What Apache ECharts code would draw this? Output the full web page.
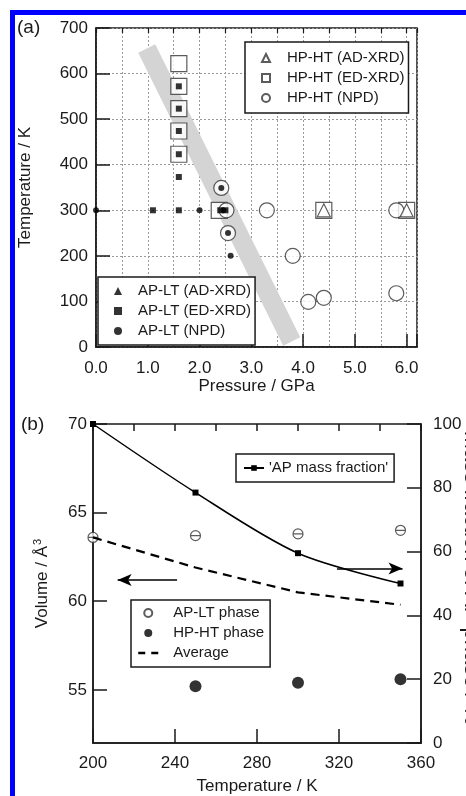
<!DOCTYPE html>
<html>
<head>
<meta charset="utf-8">
<script src="https://cdn.jsdelivr.net/npm/echarts@6/dist/echarts.min.js"></script>
<style>
  html, body { margin: 0; padding: 0; background: #fff; }
  #chart { width: 466px; height: 796px; }
</style>
</head>
<body>
<div id="chart"></div>
<script>
// panel (a): pressure [GPa], temperature [K]
const hpAdXrd = [[4.4, 300], [6.0, 300]];
const hpEdXrd = [[1.6, 622], [1.6, 572], [1.6, 523], [1.6, 474], [1.6, 423], [2.38, 300], [4.4, 300], [6.0, 300]];
const hpNpd = [[2.42, 349], [2.52, 300], [2.55, 250], [3.3, 300], [3.8, 200], [4.1, 99], [4.4, 108], [5.8, 118], [5.8, 300]];
const apAdXrd = [];
const apEdXrd = [[1.6, 572], [1.6, 523], [1.6, 474], [1.6, 423], [1.6, 373], [1.1, 300], [1.6, 300], [2.4, 300], [2.5, 300]];
const apNpd = [[0.0, 300], [2.0, 300], [2.42, 349], [2.55, 250], [2.6, 200], [2.46, 300]];
const boundary = [[0.98, 655], [3.78, 12]];

// panel (b): temperature [K]
const temps = [200, 250, 300, 350];
const apFraction = [100, 78.5, 59.5, 50];
const apltVolume = [63.6, 63.7, 63.8, 64.0];
const hphtVolume = [null, 55.2, 55.4, 55.6];
const avgVolume = [63.6, 61.9, 60.5, 59.8];
const arrowVolume = [[241, 61.2], [212, 61.2]];
const arrowFraction = [[319, 54.7], [351, 54.7]];

const volTicks = [55, 60, 65, 70];

const FONT = "Liberation Sans";
const ink = "#1a1a1a";

const pairs = (xs, ys) => xs.map((x, i) => [x, ys[i]]).filter(p => p[1] != null);

var chart = echarts.init(document.getElementById("chart"), null, { renderer: "canvas" });

const lbl = { color: ink, fontFamily: FONT, fontSize: 17 };
const nameStyle = { color: ink, fontFamily: FONT, fontSize: 17 };
const axLine = { show: true, lineStyle: { color: ink, width: 1.5 } };
const dotted = { show: true, lineStyle: { color: "#9a9a9a", type: [2, 2], width: 1 } };

const openStyle = { color: "#fff", borderColor: "#333", borderWidth: 1.2 };
const fillStyle = { color: "#000" };

const legendText = (pad) => ({ color: ink, fontFamily: FONT, fontSize: 15, lineHeight: 20, padding: [0, 0, 0, pad] });

var option = {
  animation: false,
  graphic: [
    { type: "rect", shape: { x: 10, y: 10, width: 456, height: 5 }, style: { fill: "#0000ff" } },
    { type: "rect", shape: { x: 10, y: 10, width: 5, height: 786 }, style: { fill: "#0000ff" } },
    { type: "text", left: 17, top: 18, style: { text: "(a)", font: "19px " + FONT, fill: ink } },
    { type: "text", left: 21, top: 415, style: { text: "(b)", font: "19px " + FONT, fill: ink } },
    // right-axis title, cut by the picture edge as in the source figure
    {
      type: "text", x: 471, y: 578, rotation: -Math.PI / 2,
      style: { text: "Mass fraction of AP phase / %", font: "22px " + FONT, fill: ink, align: "center", verticalAlign: "middle" }
    }
  ],
  grid: [
    { left: 96, top: 28, width: 321, height: 319, show: true, borderColor: ink, borderWidth: 1.5 },
    { left: 93, top: 424, width: 328, height: 320, show: true, borderColor: ink, borderWidth: 1.5 }
  ],
  legend: [
    {
      orient: "vertical", left: 245, top: 42, padding: [6, 4, 5, 16],
      backgroundColor: "#fff", borderColor: ink, borderWidth: 1.5,
      itemWidth: 8, itemHeight: 8, itemGap: 0, selectedMode: false,
      textStyle: legendText(12),
      data: ["HP-HT (AD-XRD)", "HP-HT (ED-XRD)", "HP-HT (NPD)"]
    },
    {
      orient: "vertical", left: 98, top: 277, padding: [4, 4, 4, 16],
      backgroundColor: "#fff", borderColor: ink, borderWidth: 1.5,
      itemWidth: 8, itemHeight: 8, itemGap: 0, selectedMode: false,
      textStyle: legendText(11),
      data: ["AP-LT (AD-XRD)", "AP-LT (ED-XRD)", "AP-LT (NPD)"]
    },
    {
      orient: "vertical", left: 236, top: 454, padding: [4, 6, 4, 7],
      backgroundColor: "#fff", borderColor: ink, borderWidth: 1.5,
      itemWidth: 20, itemHeight: 7, itemGap: 0, selectedMode: false,
      textStyle: legendText(0),
      data: ["'AP mass fraction'"]
    },
    {
      orient: "vertical", left: 131, top: 600, padding: [3, 6, 4, 6],
      backgroundColor: "#fff", borderColor: ink, borderWidth: 1.5,
      itemWidth: 20, itemHeight: 8, itemGap: 0, selectedMode: false,
      textStyle: legendText(10),
      data: [
        { name: "AP-LT phase", icon: "circle" },
        "HP-HT phase",
        { name: "Average", itemStyle: { opacity: 0 }, lineStyle: { width: 2.5, type: [7, 6] } }
      ]
    }
  ],
  xAxis: [
    {
      gridIndex: 0, type: "value", min: 0, max: 6.2, interval: 1,
      name: "Pressure / GPa", nameLocation: "middle", nameGap: 30, nameTextStyle: nameStyle,
      axisLine: axLine,
      axisTick: { inside: true, length: 13, lineStyle: { color: ink, width: 1.5 } },
      axisLabel: Object.assign({ margin: 13, formatter: v => (v > 6.01 ? "" : v.toFixed(1)) }, lbl),
      splitLine: { show: false }
    },
    {
      gridIndex: 0, type: "value", min: 0, max: 6.2, interval: 0.5,
      axisLine: { show: false },
      axisTick: { inside: true, length: 5, lineStyle: { color: ink, width: 1.2 } },
      axisLabel: { show: false },
      splitLine: dotted
    },
    {
      gridIndex: 1, type: "value", min: 200, max: 360, interval: 40,
      name: "Temperature / K", nameLocation: "middle", nameGap: 35, nameTextStyle: nameStyle,
      axisLine: axLine,
      axisTick: { inside: true, length: 14, lineStyle: { color: ink, width: 1.5 } },
      axisLabel: Object.assign({ margin: 12 }, lbl),
      splitLine: { show: false }
    },
    {
      gridIndex: 1, type: "value", min: 200, max: 360, interval: 20,
      axisLine: { show: false },
      axisTick: { inside: true, length: 7, lineStyle: { color: ink, width: 1.5 } },
      axisLabel: { show: false },
      splitLine: { show: false }
    }
  ],
  yAxis: [
    {
      gridIndex: 0, type: "value", min: 0, max: 700, interval: 100,
      name: "Temperature / K", nameLocation: "middle", nameGap: 62, nameTextStyle: nameStyle,
      axisLine: axLine,
      axisTick: { inside: true, length: 14, lineStyle: { color: ink, width: 1.5 } },
      axisLabel: Object.assign({ margin: 8 }, lbl),
      splitLine: dotted
    },
    {
      gridIndex: 1, type: "value", min: 52, max: 70, interval: 1,
      name: "{a|Volume / Å}{s|3}", nameLocation: "middle", nameGap: 40,
      nameTextStyle: Object.assign({
        rich: {
          a: { fontFamily: FONT, fontSize: 17, color: ink },
          s: { fontFamily: FONT, fontSize: 11, color: ink, padding: [0, 0, 10, 1] }
        }
      }, nameStyle),
      axisLine: axLine,
      axisTick: { inside: true, length: 14, customValues: volTicks, lineStyle: { color: ink, width: 1.5 } },
      axisLabel: Object.assign({ margin: 6, customValues: volTicks }, lbl),
      splitLine: { show: false }
    },
    {
      gridIndex: 1, type: "value", min: 0, max: 100, interval: 20, position: "right",
      axisLine: axLine,
      axisTick: { inside: true, length: 14, lineStyle: { color: ink, width: 1.5 } },
      axisLabel: Object.assign({ margin: 12 }, lbl),
      splitLine: { show: false }
    }
  ],
  series: [
    {
      type: "line", xAxisIndex: 0, yAxisIndex: 0, data: boundary, z: 1,
      symbol: "none", silent: true,
      lineStyle: { color: "#d4d4d4", width: 19, cap: "butt" }
    },
    { name: "HP-HT (ED-XRD)", type: "scatter", xAxisIndex: 0, yAxisIndex: 0, z: 3, symbol: "rect", symbolSize: 16, itemStyle: openStyle, data: hpEdXrd },
    { name: "HP-HT (NPD)", type: "scatter", xAxisIndex: 0, yAxisIndex: 0, z: 3, symbol: "circle", symbolSize: 15, itemStyle: openStyle, data: hpNpd },
    { name: "HP-HT (AD-XRD)", type: "scatter", xAxisIndex: 0, yAxisIndex: 0, z: 3, symbol: "triangle", symbolSize: 13, itemStyle: openStyle, data: hpAdXrd },
    { name: "AP-LT (AD-XRD)", type: "scatter", xAxisIndex: 0, yAxisIndex: 0, z: 4, symbol: "triangle", symbolSize: 7, itemStyle: fillStyle, data: apAdXrd },
    { name: "AP-LT (ED-XRD)", type: "scatter", xAxisIndex: 0, yAxisIndex: 0, z: 4, symbol: "rect", symbolSize: 6, itemStyle: fillStyle, data: apEdXrd },
    { name: "AP-LT (NPD)", type: "scatter", xAxisIndex: 0, yAxisIndex: 0, z: 4, symbol: "circle", symbolSize: 6, itemStyle: fillStyle, data: apNpd },

    {
      name: "'AP mass fraction'", type: "line", xAxisIndex: 2, yAxisIndex: 2,
      data: pairs(temps, apFraction), smooth: 0.3,
      symbol: "rect", symbolSize: 6, itemStyle: { color: "#000" },
      lineStyle: { color: "#000", width: 1.5 },
      markLine: {
        silent: true, symbol: ["none", "arrow"], symbolSize: [9, 14],
        label: { show: false }, lineStyle: { color: "#000", width: 1.5, type: "solid" },
        data: [[{ coord: arrowFraction[0] }, { coord: arrowFraction[1] }]]
      }
    },
    {
      name: "Average", type: "line", xAxisIndex: 2, yAxisIndex: 1,
      data: pairs(temps, avgVolume), symbol: "none",
      lineStyle: { color: "#000", width: 2.2, type: [9, 6] },
      itemStyle: { color: "#000" },
      markLine: {
        silent: true, symbol: ["none", "arrow"], symbolSize: [9, 14],
        label: { show: false }, lineStyle: { color: "#000", width: 1.5, type: "solid" },
        data: [[{ coord: arrowVolume[0] }, { coord: arrowVolume[1] }]]
      }
    },
    {
      name: "AP-LT phase", type: "scatter", xAxisIndex: 2, yAxisIndex: 1,
      symbol: "path://M0,10A10,10 0 1,1 20,10A10,10 0 1,1 0,10ZM0,10L20,10",
      symbolSize: 10, itemStyle: { color: "#fff", borderColor: "#333", borderWidth: 1.2 },
      data: pairs(temps, apltVolume)
    },
    {
      name: "HP-HT phase", type: "scatter", xAxisIndex: 2, yAxisIndex: 1,
      symbol: "circle", symbolSize: 12, itemStyle: { color: "#000" },
      data: pairs(temps, hphtVolume)
    }
  ]
};

chart.setOption(option);
window.addEventListener("resize", chart.resize);
</script>
</body>
</html>
